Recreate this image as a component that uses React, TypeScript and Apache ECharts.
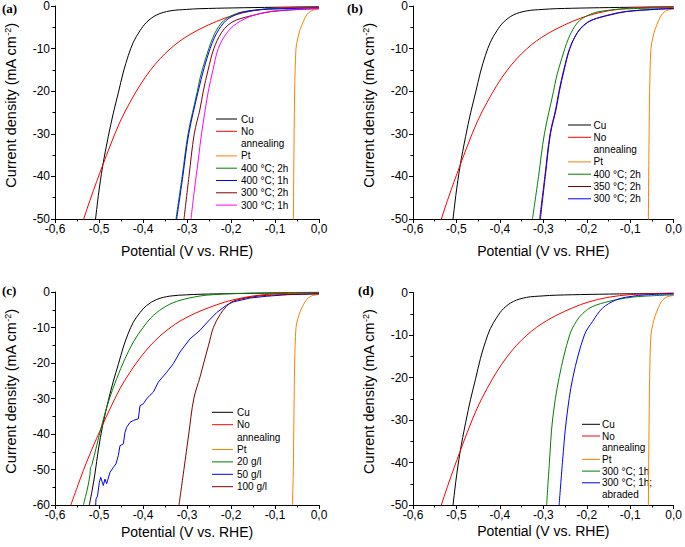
import React, { useEffect, useRef } from "react";
import * as echarts from "echarts";

type P = [number, number];

// shared curves
const cu: P[] = [
  [-0.522, -60], [-0.515, -55.5], [-0.509, -51], [-0.5015, -44.5], [-0.4917, -37.6], [-0.4788, -30.6],
  [-0.4674, -25.1], [-0.4561, -20.4], [-0.4447, -15.5], [-0.4333, -11.6], [-0.422, -8.5], [-0.4068, -5.8],
  [-0.3917, -3.8], [-0.3689, -2.1], [-0.3386, -1.15], [-0.3008, -0.8], [-0.2705, -0.63], [-0.195, -0.45],
  [-0.1, -0.3], [0, -0.2],
];
const noAnnealing: P[] = [
  [-0.564, -60], [-0.5495, -55], [-0.5357, -50.3], [-0.5205, -45.6], [-0.5053, -41.2], [-0.4917, -37.4],
  [-0.475, -32.9], [-0.4523, -27.2], [-0.4295, -22.6], [-0.4068, -18.6], [-0.3841, -15.2], [-0.3614, -12.4],
  [-0.3386, -10.1], [-0.3159, -8.2], [-0.2932, -6.7], [-0.2705, -5.4], [-0.2326, -3.6], [-0.195, -2.2],
  [-0.149, -1.1], [-0.1, -0.5], [-0.05, -0.28], [0, -0.16],
];
const pt: P[] = [
  [-0.0605, -60], [-0.0583, -50], [-0.0575, -40], [-0.0565, -30], [-0.0553, -20], [-0.0523, -10],
  [-0.048, -7.5], [-0.043, -5.6], [-0.035, -3.5], [-0.028, -2.1], [-0.02, -1.3], [-0.013, -0.95],
  [-0.006, -0.8], [0, -0.7],
];

// panel (a)
const a400c2h: P[] = [
  [-0.325, -50], [-0.311, -40], [-0.2975, -30], [-0.2765, -20], [-0.2705, -17], [-0.264, -14.5],
  [-0.2505, -10], [-0.242, -7.6], [-0.2326, -5.6], [-0.222, -4.0], [-0.21, -2.9], [-0.195, -2.1],
  [-0.1795, -1.5], [-0.15, -1.0], [-0.119, -0.7], [0, -0.4],
];
const a400c1h: P[] = [
  [-0.3235, -50], [-0.3095, -40], [-0.296, -30], [-0.2745, -20], [-0.261, -14.5], [-0.2475, -10],
  [-0.238, -7.5], [-0.228, -5.6], [-0.217, -4.0], [-0.205, -2.9], [-0.19, -2.1], [-0.175, -1.5],
  [-0.145, -1.0], [-0.115, -0.75], [0, -0.45],
];
const a300c2h: P[] = [
  [-0.3068, -50], [-0.2955, -40], [-0.2835, -30], [-0.2705, -24.2], [-0.263, -20], [-0.252, -15],
  [-0.239, -10], [-0.222, -6.3], [-0.207, -4.5], [-0.188, -3.3], [-0.146, -2.1], [-0.108, -1.3],
  [-0.05, -0.85], [0, -0.6],
];
const a300c1h: P[] = [
  [-0.291, -50], [-0.283, -43], [-0.2742, -36], [-0.267, -30], [-0.2515, -20], [-0.241, -15],
  [-0.229, -10], [-0.21, -6.4], [-0.187, -4.1], [-0.149, -2.2], [-0.096, -1.1], [0, -0.6],
];

// panel (b)
const b350c2h: P[] = [
  [-0.3085, -50], [-0.2965, -40], [-0.2845, -30], [-0.2715, -24.2], [-0.264, -20], [-0.253, -15],
  [-0.2395, -10], [-0.2225, -6.4], [-0.207, -4.6], [-0.188, -3.3], [-0.146, -2.0], [-0.108, -1.25],
  [-0.05, -0.8], [0, -0.55],
];

// panel (c)
const c20gl: P[] = [
  [-0.5356, -60], [-0.5265, -55.5], [-0.5205, -51.5], [-0.5195, -49.5], [-0.5167, -48.9], [-0.5053, -43.3],
  [-0.4939, -37.6], [-0.4788, -31.0], [-0.4598, -24.4], [-0.4409, -18.8], [-0.422, -14.1], [-0.3992, -9.9],
  [-0.3765, -6.6], [-0.3462, -3.9], [-0.3159, -2.35], [-0.2705, -1.13], [-0.24, -0.75], [-0.195, -0.45],
  [-0.1, -0.2], [0, -0.05],
];
const c50gl: P[] = [
  [-0.5075, -60], [-0.5068, -58.3], [-0.5035, -57.5], [-0.4992, -53.6], [-0.4962, -52.2], [-0.4902, -54.5],
  [-0.4864, -52.7], [-0.4826, -54], [-0.475, -50.8], [-0.4674, -49.4], [-0.4614, -48.4], [-0.4561, -46.1],
  [-0.4523, -43.3], [-0.4447, -42.8], [-0.4409, -39.5], [-0.4371, -38.1], [-0.4295, -36.7], [-0.422, -36.2],
  [-0.4106, -35.7], [-0.4068, -32.0], [-0.3992, -31.5], [-0.3917, -30.1], [-0.3841, -29.1], [-0.3765, -28.2],
  [-0.3652, -25.4], [-0.3462, -22.6], [-0.3311, -20.2], [-0.3159, -16.9], [-0.2932, -13.2], [-0.2705, -10.8],
  [-0.2515, -8.2], [-0.2326, -5.8], [-0.21, -3.7], [-0.195, -2.8], [-0.157, -1.7], [-0.119, -1.2],
  [-0.073, -0.75], [0, -0.5],
];
const c100gl: P[] = [
  [-0.3182, -60], [-0.307, -50], [-0.296, -40], [-0.2845, -30], [-0.2705, -24], [-0.262, -20],
  [-0.251, -15], [-0.24, -10], [-0.225, -6.4], [-0.21, -4.0], [-0.195, -2.6], [-0.157, -1.5],
  [-0.119, -0.94], [-0.05, -0.65], [0, -0.5],
];

// panel (d)
const d300c1h: P[] = [
  [-0.2924, -50], [-0.286, -40], [-0.2788, -30], [-0.2636, -20], [-0.2395, -10], [-0.224, -6.8],
  [-0.209, -4.9], [-0.1866, -3.3], [-0.149, -2.1], [-0.111, -1.3], [-0.073, -0.9], [0, -0.55],
];
const d300c1hAbraded: P[] = [
  [-0.2636, -50], [-0.256, -40], [-0.247, -30], [-0.232, -20], [-0.2055, -10], [-0.1866, -6.8],
  [-0.164, -3.7], [-0.1336, -1.8], [-0.1034, -1.0], [-0.058, -0.5], [0, -0.35],
];

const yMins = [-50, -50, -60, -50];
const panelLabels = ["(a)", "(b)", "(c)", "(d)"];

interface S { name: string; data: P[]; color: string; smooth?: boolean }
const BLACK = "#000000", RED = "#ff0000", ORANGE = "#ff8000", GREEN = "#008000", BLUE = "#0000ff", WINE = "#800000", MAG = "#ff00ff";

const panels: S[][] = [
  [
    { name: "Cu", data: cu, color: BLACK },
    { name: "No\nannealing", data: noAnnealing, color: RED },
    { name: "Pt", data: pt, color: ORANGE },
    { name: "400 °C; 2h", data: a400c2h, color: GREEN },
    { name: "400 °C; 1h", data: a400c1h, color: BLUE },
    { name: "300 °C; 2h", data: a300c2h, color: WINE },
    { name: "300 °C; 1h", data: a300c1h, color: MAG },
  ],
  [
    { name: "Cu", data: cu, color: BLACK },
    { name: "No\nannealing", data: noAnnealing, color: RED },
    { name: "Pt", data: pt, color: ORANGE },
    { name: "400 °C; 2h", data: a400c2h, color: GREEN },
    { name: "350 °C; 2h", data: b350c2h, color: WINE },
    { name: "300 °C; 2h", data: a300c2h, color: BLUE },
  ],
  [
    { name: "Cu", data: cu, color: BLACK },
    { name: "No\nannealing", data: noAnnealing, color: RED },
    { name: "Pt", data: pt, color: ORANGE },
    { name: "20 g/l", data: c20gl, color: GREEN },
    { name: "50 g/l", data: c50gl, color: BLUE, smooth: false },
    { name: "100 g/l", data: c100gl, color: WINE },
  ],
  [
    { name: "Cu", data: cu, color: BLACK },
    { name: "No\nannealing", data: noAnnealing, color: RED },
    { name: "Pt", data: pt, color: ORANGE },
    { name: "300 °C; 1h", data: d300c1h, color: GREEN },
    { name: "300 °C; 1h;\nabraded", data: d300c1hAbraded, color: BLUE },
  ],
];

const FONT = "'Liberation Sans', Arial, sans-serif";

export default function App() {
  const ref = useRef<HTMLDivElement>(null);
  useEffect(() => {
    if (!ref.current) return;
    const chart = echarts.init(ref.current, undefined, { renderer: "svg" });

    const grids = [
      { left: 55, top: 6, width: 264, height: 213 },
      { left: 413, top: 6, width: 263, height: 213 },
      { left: 55, top: 292, width: 264, height: 213 },
      { left: 413, top: 292.5, width: 264, height: 212.5 },
    ];
    const xNameGaps = [25, 25, 20, 19];
    const legendPos = [
      { x1: 216, x2: 237, tx: 241, y0: 119, step: 12.3 },
      { x1: 568, x2: 591, tx: 593.5, y0: 125, step: 12.3 },
      { x1: 212, x2: 233, tx: 237, y0: 412.3, step: 12.4 },
      { x1: 582, x2: 600, tx: 602, y0: 424.3, step: 11.7 },
    ];
    const labelPos = [
      [2, 2], [347, 2], [2, 284], [358, 284],
    ];

    const xAxis = grids.map((_, i) => ({
      type: "value",
      gridIndex: i,
      min: -0.6,
      max: 0,
      interval: 0.1,
      name: "Potential (V vs. RHE)",
      nameLocation: "middle",
      nameGap: xNameGaps[i],
      nameTextStyle: { fontSize: 14, fontFamily: FONT, color: "#000" },
      axisLine: { show: true, onZero: false, lineStyle: { color: "#000", width: 1 } },
      axisTick: { show: true, inside: false, length: 4, lineStyle: { color: "#000" } },
      minorTick: { show: true, splitNumber: 2, length: 2.5, lineStyle: { color: "#000" } },
      splitLine: { show: false },
      axisLabel: {
        fontSize: 12, fontFamily: FONT, color: "#000", margin: 4,
        formatter: (v: number) => (Math.abs(v) < 1e-9 ? "0,0" : v.toFixed(1).replace(".", ",")),
      },
    }));
    const yAxis = grids.map((_, i) => ({
      type: "value",
      gridIndex: i,
      min: yMins[i],
      max: 0,
      interval: 10,
      name: "Current density (mA cm{sup|-2})",
      nameLocation: "middle",
      nameGap: 37,
      nameTextStyle: {
        fontSize: 14.5, fontFamily: FONT, color: "#000",
        padding: [0, 0, 0, 14],
        rich: { sup: { fontSize: 9, fontFamily: FONT, color: "#000", verticalAlign: "top", lineHeight: 10 } },
      },
      axisLine: { show: true, onZero: false, lineStyle: { color: "#000", width: 1 } },
      axisTick: { show: true, inside: false, length: 4, lineStyle: { color: "#000" } },
      minorTick: { show: true, splitNumber: 2, length: 2.5, lineStyle: { color: "#000" } },
      splitLine: { show: false },
      axisLabel: { fontSize: 12, fontFamily: FONT, color: "#000", margin: 5 },
    }));

    const series: any[] = [];
    const graphic: any[] = [];
    panels.forEach((ps, i) => {
      const lp = legendPos[i];
      let row = 0;
      ps.forEach((s) => {
        series.push({
          type: "line",
          name: s.name,
          xAxisIndex: i,
          yAxisIndex: i,
          data: s.data,
          showSymbol: false,
          symbol: "none",
          smooth: s.smooth === false ? false : 0.35,
          clip: true,
          lineStyle: { color: s.color, width: 1 },
          itemStyle: { color: s.color },
        });
        const y = lp.y0 + row * lp.step;
        graphic.push({
          type: "line",
          shape: { x1: lp.x1, y1: y, x2: lp.x2, y2: y },
          style: { stroke: s.color, lineWidth: 1 },
        });
        s.name.split("\n").forEach((t) => {
          graphic.push({
            type: "text",
            x: lp.tx,
            y: lp.y0 + row * lp.step,
            style: { text: t, fontSize: 10, fontFamily: FONT, fill: "#000", verticalAlign: "middle", align: "left" },
          });
          row++;
        });
      });
      graphic.push({
        type: "text",
        x: labelPos[i][0],
        y: labelPos[i][1],
        style: {
          text: panelLabels[i], fontSize: 13, fontWeight: "bold",
          fontFamily: "'Liberation Serif', 'Times New Roman', serif", fill: "#000", verticalAlign: "top",
        },
      });
    });

    chart.setOption({
      animation: false,
      backgroundColor: "#ffffff",
      grid: grids,
      xAxis,
      yAxis,
      series,
      graphic,
    });
    return () => chart.dispose();
  }, []);
  return (
    <div
      ref={ref}
      style={{ position: "fixed", left: 0, top: 0, width: 685, height: 547, background: "#fff" }}
    />
  );
}
